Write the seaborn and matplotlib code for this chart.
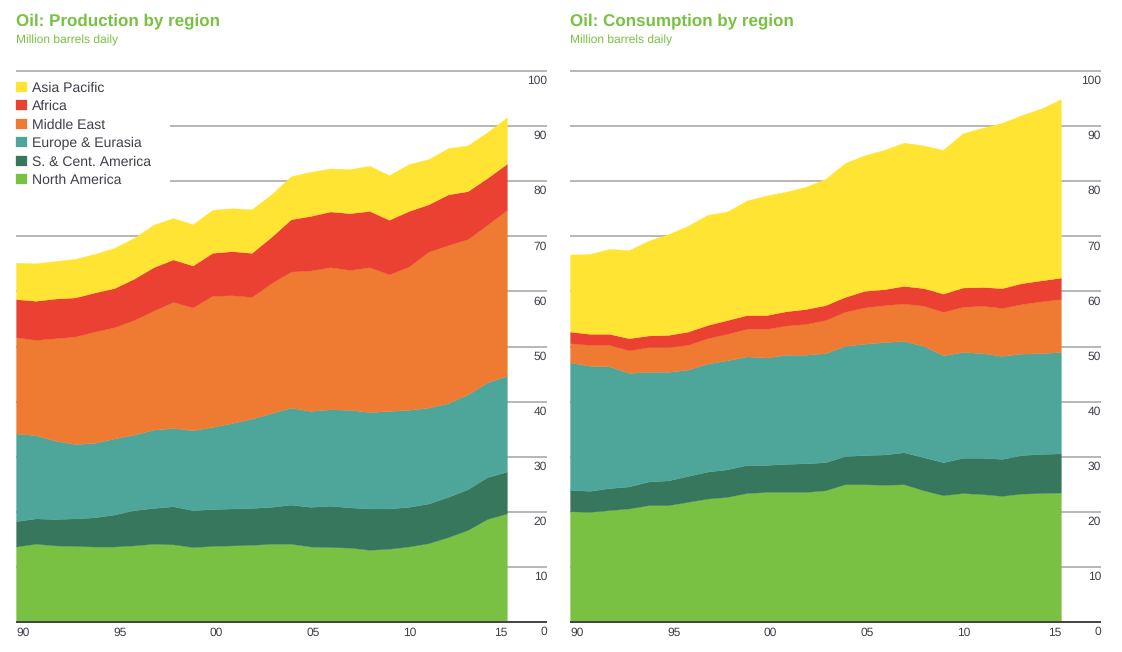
import matplotlib
matplotlib.use("Agg")
import matplotlib.pyplot as plt
import matplotlib.transforms as mtrans
from matplotlib.patches import Rectangle
import seaborn as sns

years = list(range(1990, 2016))
regions = ["North America", "S. & Cent. America", "Europe & Eurasia", "Middle East", "Africa", "Asia Pacific"]
region_colors = ["#78C142", "#37775D", "#4DA699", "#EF7A32", "#EA4132", "#FFE433"]

x_tick_labels = ["90", "95", "00", "05", "10", "15"]
y_ticks = [0, 10, 20, 30, 40, 50, 60, 70, 80, 90, 100]

# Production, million barrels daily
prod_north_america = [13.7, 14.2, 13.9, 13.8, 13.7, 13.7, 13.9, 14.2, 14.1, 13.6, 13.8, 13.9, 14.0,
                      14.2, 14.2, 13.7, 13.6, 13.5, 13.1, 13.3, 13.7, 14.3, 15.4, 16.7, 18.7, 19.7]
prod_sc_america = [4.6, 4.6, 4.8, 5.0, 5.3, 5.8, 6.4, 6.5, 6.9, 6.7, 6.7, 6.7, 6.7,
                   6.7, 7.1, 7.2, 7.5, 7.3, 7.5, 7.3, 7.2, 7.2, 7.3, 7.4, 7.6, 7.6]
prod_europe = [15.9, 15.1, 14.2, 13.5, 13.5, 13.8, 13.7, 14.2, 14.2, 14.5, 14.9, 15.5, 16.2,
               17.0, 17.6, 17.4, 17.5, 17.7, 17.5, 17.7, 17.6, 17.4, 17.0, 17.2, 17.2, 17.4]
prod_middle_east = [17.5, 17.3, 18.6, 19.5, 20.2, 20.2, 20.8, 21.6, 22.9, 22.3, 23.8, 23.2, 22.1,
                    23.6, 24.7, 25.5, 25.8, 25.4, 26.3, 24.8, 26.0, 28.3, 28.7, 28.2, 28.6, 30.1]
prod_africa = [6.9, 7.1, 7.2, 7.1, 7.1, 7.1, 7.5, 7.9, 7.7, 7.6, 7.8, 8.0, 8.0,
               8.4, 9.5, 9.9, 10.1, 10.3, 10.2, 9.9, 10.1, 8.6, 9.2, 8.7, 8.5, 8.4]
prod_asia = [6.6, 6.8, 6.8, 7.0, 7.0, 7.3, 7.4, 7.7, 7.5, 7.5, 7.8, 7.8, 7.9,
             7.7, 7.8, 8.0, 7.8, 8.0, 8.2, 8.1, 8.5, 8.2, 8.4, 8.3, 8.3, 8.4]

# Consumption, million barrels daily
cons_north_america = [20.1, 20.0, 20.3, 20.6, 21.2, 21.2, 21.8, 22.4, 22.7, 23.4, 23.6, 23.6, 23.6,
                      23.9, 25.0, 25.0, 24.9, 25.0, 23.9, 23.0, 23.4, 23.2, 22.9, 23.3, 23.4, 23.5]
cons_sc_america = [3.9, 3.8, 4.0, 4.0, 4.3, 4.5, 4.7, 4.9, 5.0, 5.1, 4.9, 5.1, 5.2,
                   5.1, 5.1, 5.3, 5.5, 5.8, 6.0, 6.0, 6.4, 6.6, 6.7, 7.0, 7.1, 7.1]
cons_europe = [23.1, 22.7, 22.1, 20.6, 19.9, 19.7, 19.3, 19.6, 19.8, 19.7, 19.5, 19.8, 19.7,
               19.8, 20.0, 20.2, 20.4, 20.2, 20.2, 19.4, 19.2, 19.0, 18.7, 18.4, 18.3, 18.4]
cons_middle_east = [3.5, 3.8, 3.9, 4.1, 4.5, 4.5, 4.5, 4.6, 4.8, 5.0, 5.2, 5.3, 5.6,
                    6.0, 6.2, 6.6, 6.7, 6.8, 7.3, 7.9, 8.2, 8.6, 8.7, 9.0, 9.4, 9.6]
cons_africa = [2.1, 2.0, 2.0, 2.2, 2.1, 2.2, 2.4, 2.4, 2.5, 2.5, 2.5, 2.6, 2.7,
               2.7, 2.7, 3.0, 2.9, 3.2, 3.2, 3.3, 3.5, 3.4, 3.6, 3.8, 3.8, 3.9]
cons_asia = [14.0, 14.5, 15.4, 16.0, 17.2, 18.3, 19.2, 20.0, 19.7, 20.8, 21.7, 21.7, 22.2,
             22.9, 24.3, 24.6, 25.3, 26.0, 25.9, 26.1, 28.0, 28.9, 30.0, 30.5, 31.2, 32.4]

production = [prod_north_america, prod_sc_america, prod_europe, prod_middle_east, prod_africa, prod_asia]
consumption = [cons_north_america, cons_sc_america, cons_europe, cons_middle_east, cons_africa, cons_asia]

W, H = 1122, 652
GREEN = "#78C142"
TEXT = "#3F3F4A"
GRID = "#A3A3A3"

sns.set_theme(style="white")
plt.rcParams["font.family"] = ["Liberation Sans", "DejaVu Sans"]
plt.rcParams["text.hinting"] = "no_hinting"
plt.rcParams["text.hinting_factor"] = 1


def draw_panel(fig, left_px, series, title):
    ax = fig.add_axes([left_px / W, 30 / H, 531 / W, 551 / H])
    polys = ax.stackplot(years, series, labels=regions, colors=region_colors,
                         edgecolor="face", linewidth=0.2, zorder=2)
    ax.set_xlim(1990, 2017.04)
    ax.set_ylim(0, 100)
    sns.despine(ax=ax, left=True, bottom=True)

    ax.set_axisbelow(True)
    ax.set_yticks(y_ticks)
    ax.grid(axis="y", color=GRID, linewidth=1.1)
    for line in ax.get_ygridlines():
        line.set_clip_on(False)
        line.set_solid_capstyle("butt")
    ax.axhline(0, color="#444444", linewidth=1.4, clip_on=False, zorder=3, solid_capstyle="butt")

    # tick labels sit inside the axes, just under each grid line
    ax.tick_params(axis="y", labelleft=False, labelright=True, length=0, pad=0,
                   labelsize=8.8, labelcolor=TEXT)
    shift = mtrans.ScaledTranslation(0, -10 / 100, fig.dpi_scale_trans)
    for label in ax.get_yticklabels():
        label.set_horizontalalignment("right")
        label.set_verticalalignment("center")
        label.set_transform(label.get_transform() + shift)

    ax.set_xticks([1990, 1994.94, 1999.88, 2004.77, 2009.7, 2015], x_tick_labels)
    ax.tick_params(axis="x", length=0, pad=3.6, labelsize=8.8, labelcolor=TEXT)
    for label in ax.get_xticklabels():
        label.set_horizontalalignment("left")
    ax.get_xticklabels()[-1].set_horizontalalignment("right")

    fig.text(left_px / W, 1 - 21.5 / H, title, color=GREEN, fontsize=12.55, fontweight="bold", va="center")
    fig.text(left_px / W, 1 - 40.5 / H, "Million barrels daily", color=GREEN, fontsize=8.7, va="center")
    return ax, polys


fig = plt.figure(figsize=(W / 100, H / 100), dpi=100, facecolor="white")

ax_prod, polys = draw_panel(fig, 16, production, "Oil: Production by region")
ax_cons, _ = draw_panel(fig, 570, consumption, "Oil: Consumption by region")

# the legend blanks out the grid lines behind it
ax_prod.add_patch(Rectangle((1990, 78), 7.84, 20.7, facecolor="white", edgecolor="none", zorder=1))
ax_prod.legend(polys[::-1], regions[::-1], loc="upper left", bbox_to_anchor=(0, 0.981),
               frameon=False, borderpad=0, borderaxespad=0, fontsize=10.1, labelcolor=TEXT,
               handlelength=0.75, handleheight=0.75, handletextpad=0.42, labelspacing=0.39)

fig.savefig("out.png", dpi=100)
